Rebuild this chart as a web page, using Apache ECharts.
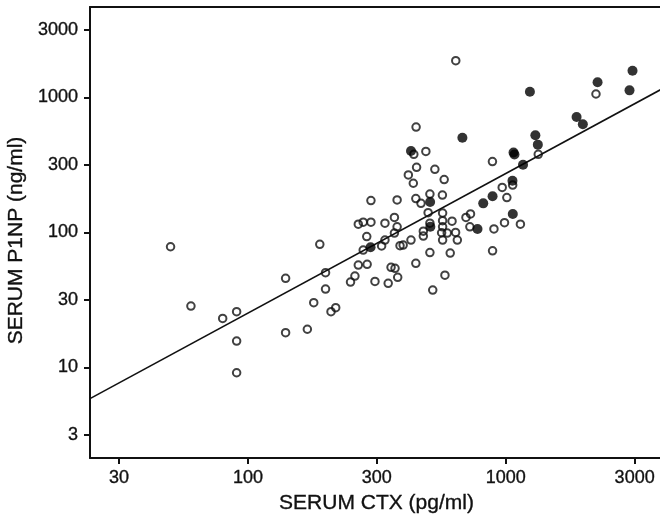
<!DOCTYPE html>
<html><head><meta charset="utf-8">
<script src="https://cdn.jsdelivr.net/npm/echarts@6/dist/echarts.min.js"></script>
<style>html,body{margin:0;padding:0;background:#fff}#c{width:660px;height:515px}</style>
</head><body><div id="c"></div><script>
// Open circles: serum CTX (pg/ml) and serum P1NP (ng/ml)
const openCTX = [50.1,60.1,79.8,90.4,90.4,90.4,140,140,170,180,190,200,200,210,219,250,260,268,268,280,280,289,290,300,300,311,330,340,340,350,359,372,370,370,381,379,379,389,400,419,429,440,438,449,451,448,448,469,479,479,490,500,508,508,508,521,531,564,568,569,569,569,569,577,581,593,609,619,640,639,649,701,730,726,888,900,889,969,989,1010,1064,1140,1337,2239];
const openP1NP = [78.3,28.5,23.1,25.9,15.7,9.15,45.7,18.1,19.2,30.2,81.6,50.3,38.1,25.9,27.7,42.9,47.5,57.3,115,119,74.0,93.2,58.0,172,119,43.4,79.3,87.8,117,42.0,55.1,54.2,129,98.9,46.5,110,174,79.7,80.6,266,87.8,378,231,602,303,178,59.0,164,102,94.0,397,140,192,117,70.9,37.4,293,99.4,189,139,122,110,87.8,246,48.2,98.9,70.3,121,1865,100,87.8,129,137,110,334,106,73.1,215,118,181,224,115,378,1057];
// Filled circles
const filledCTX = [299,429,509,510,679,777,818,889,1062,1065,1072,1081,1167,1241,1303,1332,1883,1991,2271,3021,3103];
const filledP1NP = [77.6,400,168,110,502,106,164,185,241,137,390,377,317,1099,523,446,715,631,1290,1125,1572];
// Fitted line end points
const fitCTX = [24.4, 4074];
const fitP1NP = [5.89, 1164];
// Axes (log scale, ticks at half decades)
const xRange = [24.4, 4074];
const yRange = [2.14, 4656];
const xTickExp = [1.5, 2, 2.5, 3, 3.5];
const xTickLabels = ['30', '100', '300', '1000', '3000'];
const yTickExp = [0.5, 1, 1.5, 2, 2.5, 3, 3.5];
const yTickLabels = ['3', '10', '30', '100', '300', '1000', '3000'];

const L = Math.log10;
const pairs = (xs, ys) => xs.map((x, i) => [L(x), L(ys[i])]);
const fmt = (pos, labels) => v => { const i = pos.findIndex(p => Math.abs(p - v) < 1e-6); return i >= 0 ? labels[i] : ''; };
const FONT = '"Liberation Sans", Arial, sans-serif';
const lineStyle = { color: '#111', width: 2 };
const txt = { fontFamily: FONT, color: '#111', textBorderColor: '#111', textBorderWidth: 0.35 };

const chart = echarts.init(document.getElementById('c'), null, { renderer: 'canvas' });
chart.setOption({
  animation: false,
  backgroundColor: '#fff',
  grid: { left: 90, right: -3, top: 7, bottom: 57, containLabel: false, outerBoundsMode: 'none' },
  xAxis: [{
    type: 'value', min: L(xRange[0]), max: L(xRange[1]),
    name: 'SERUM CTX (pg/ml)', nameLocation: 'middle', nameGap: 33,
    nameTextStyle: Object.assign({ fontSize: 21 }, txt),
    axisLine: { show: true, onZero: false, lineStyle },
    axisTick: { show: true, length: 6, lineStyle, customValues: xTickExp },
    axisLabel: Object.assign({ customValues: xTickExp, formatter: fmt(xTickExp, xTickLabels), margin: 11, fontSize: 18 }, txt),
    splitLine: { show: false }
  }, {
    type: 'value', position: 'top', min: L(xRange[0]), max: L(xRange[1]),
    axisLine: { show: true, onZero: false, lineStyle },
    axisTick: { show: false }, axisLabel: { show: false }, splitLine: { show: false }
  }],
  yAxis: {
    type: 'value', min: L(yRange[0]), max: L(yRange[1]),
    name: 'SERUM P1NP (ng/ml)', nameLocation: 'middle', nameGap: 61,
    nameTextStyle: Object.assign({ fontSize: 21, padding: [0, 16, 0, 0] }, txt),
    axisLine: { show: true, onZero: false, lineStyle },
    axisTick: { show: true, length: 6, lineStyle, customValues: yTickExp },
    axisLabel: Object.assign({ customValues: yTickExp, formatter: fmt(yTickExp, yTickLabels), margin: 12, fontSize: 18 }, txt),
    splitLine: { show: false }
  },
  series: [{
    type: 'line', data: pairs(fitCTX, fitP1NP), symbol: 'none', clip: true,
    lineStyle: { color: '#111', width: 1.6 }, z: 1
  }, {
    type: 'scatter', data: pairs(openCTX, openP1NP), symbol: 'circle', symbolSize: 7.5,
    itemStyle: { color: 'rgba(255,255,255,0)', borderColor: '#111', borderWidth: 2 }, z: 2
  }, {
    type: 'scatter', data: pairs(filledCTX, filledP1NP), symbol: 'circle', symbolSize: 10,
    itemStyle: { color: '#000', borderWidth: 0 }, z: 3
  }]
});
</script></body></html>
